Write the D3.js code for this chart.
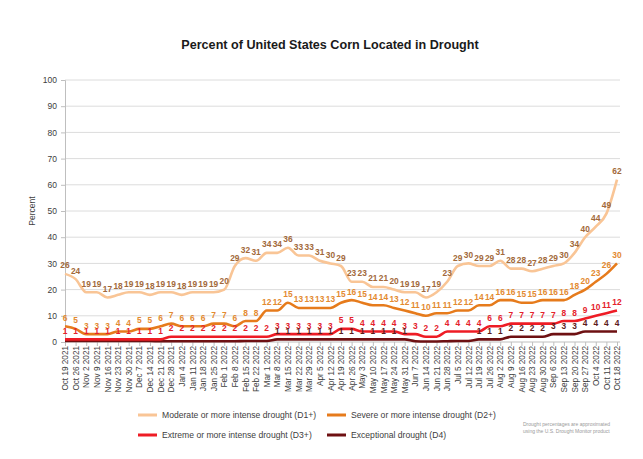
<!DOCTYPE html>
<html>
<head>
<meta charset="utf-8">
<script src="https://cdn.jsdelivr.net/npm/d3@7"></script>
<style>
  html, body { margin: 0; padding: 0; background: #ffffff; }
  svg { display: block; font-family: "Liberation Sans", Arial, sans-serif; }
</style>
</head>
<body>
<svg id="chart" width="643" height="459"></svg>
<script>
// Weekly U.S. Drought Monitor dates
const weeks = [
  "Oct 19 2021","Oct 26 2021","Nov 2 2021","Nov 9 2021","Nov 16 2021","Nov 23 2021","Nov 30 2021",
  "Dec 7 2021","Dec 14 2021","Dec 21 2021","Dec 28 2021","Jan 4 2022","Jan 11 2022","Jan 18 2022",
  "Jan 25 2022","Feb 1 2022","Feb 8 2022","Feb 15 2022","Feb 22 2022","Mar 1 2022","Mar 8 2022",
  "Mar 15 2022","Mar 22 2022","Mar 29 2022","Apr 5 2022","Apr 12 2022","Apr 19 2022","Apr 26 2022",
  "May 3 2022","May 10 2022","May 17 2022","May 24 2022","May 31 2022","Jun 7 2022","Jun 14 2022",
  "Jun 21 2022","Jun 28 2022","Jul 5 2022","Jul 12 2022","Jul 19 2022","Jul 26 2022","Aug 2 2022",
  "Aug 9 2022","Aug 16 2022","Aug 23 2022","Aug 30 2022","Sep 6 2022","Sep 13 2022","Sep 20 2022",
  "Sep 27 2022","Oct 4 2022","Oct 11 2022","Oct 18 2022"
];

// Percent of corn area in each drought category
const d1Plus = [26,24,19,19,17,18,19,19,18,19,19,18,19,19,19,20,29,32,31,34,34,36,33,33,31,30,29,
                23,23,21,21,20,19,19,17,19,23,29,30,29,29,31,28,28,27,28,29,30,34,40,44,49,62];
const d2Plus = [6,5,3,3,3,4,4,5,5,6,7,6,6,6,7,7,6,8,8,12,12,15,13,13,13,13,15,
                16,15,14,14,13,12,11,10,11,11,12,12,14,14,16,16,15,15,16,16,16,18,20,23,26,30];
const d3Plus = [1,1,1,1,1,1,1,1,1,1,2,2,2,2,2,2,2,2,2,2,3,3,3,3,3,3,5,
                5,4,4,4,4,3,3,2,2,4,4,4,4,6,6,7,7,7,7,7,8,8,9,10,11,12];
const d4 = [0.4,0.4,0.4,0.4,0.4,0.4,0.4,0.4,0.4,0.3,0.3,0.3,0.3,0.3,0.3,0.3,0.3,0.4,0.4,0.4,1,1,1,1,1,1,1,
            1,1,1,1,1,1,0.3,0.2,0.2,0.3,0.4,0.4,1,1,1,2,2,2,2,3,3,3,4,4,4,4];

const yTicks = [0,10,20,30,40,50,60,70,80,90,100];

const series = [
  { name: "Moderate or more intense drought (D1+)", values: d1Plus, line: "#f9c596", label: "#a2693a" },
  { name: "Severe or more intense drought (D2+)",   values: d2Plus, line: "#e67b1c", label: "#e38a30" },
  { name: "Extreme or more intense drought (D3+)",  values: d3Plus, line: "#ee1c25", label: "#e5212b" },
  { name: "Exceptional drought (D4)",               values: d4,     line: "#6e1012", label: "#5c1b1b" }
];

const svg = d3.select("#chart");
const plot = { left: 65, right: 620, top: 80, bottom: 342 };

const x = d3.scalePoint().domain(weeks).range([plot.left, 617]);
const y = d3.scaleLinear().domain([0, 100]).range([plot.bottom, plot.top]);

// Title
svg.append("text")
  .attr("x", 330).attr("y", 49)
  .attr("text-anchor", "middle")
  .attr("font-size", 12.6).attr("font-weight", "bold").attr("fill", "#1a1a1a")
  .text("Percent of United States Corn Located in Drought");

// Horizontal gridlines
svg.append("g")
  .selectAll("line")
  .data(yTicks.filter(t => t > 0))
  .join("line")
  .attr("x1", plot.left).attr("x2", plot.right)
  .attr("y1", d => y(d)).attr("y2", d => y(d))
  .attr("stroke", "#dcdcdc").attr("stroke-width", 1);

// Y axis
const yAxis = svg.append("g")
  .attr("transform", `translate(${plot.left},0)`)
  .call(d3.axisLeft(y).tickValues(yTicks).tickSize(4).tickPadding(4));
yAxis.select(".domain").attr("stroke", "#bfbfbf");
yAxis.selectAll(".tick line").attr("stroke", "#bfbfbf");
yAxis.selectAll(".tick text").attr("font-size", 8.5).attr("fill", "#404040")
  .attr("font-family", "Liberation Sans, Arial, sans-serif");

// Y axis title
svg.append("text")
  .attr("transform", "translate(35,211) rotate(-90)")
  .attr("text-anchor", "middle")
  .attr("font-size", 8.5).attr("fill", "#404040")
  .text("Percent");

// X axis
const xAxis = svg.append("g")
  .attr("transform", `translate(0,${plot.bottom})`)
  .call(d3.axisBottom(x).tickSize(4).tickPadding(3));
xAxis.select(".domain").attr("stroke", "#bfbfbf").attr("d", `M${plot.left},0H${plot.right}`);
xAxis.selectAll(".tick line").attr("stroke", "#bfbfbf");
xAxis.selectAll(".tick text")
  .attr("font-size", 8.2).attr("fill", "#404040")
  .attr("font-family", "Liberation Sans, Arial, sans-serif")
  .attr("text-anchor", "end")
  .attr("dy", "0.32em")
  .attr("transform", "translate(0,4) rotate(-90)")
  .attr("x", 0).attr("y", 0);

// Lines
const line = d3.line()
  .x((d, i) => x(weeks[i]))
  .y(d => y(d))
  .curve(d3.curveMonotoneX);

const linesG = svg.append("g");
series.slice().reverse().forEach(s => {
  linesG.append("path")
    .datum(s.values)
    .attr("fill", "none")
    .attr("stroke", s.line)
    .attr("stroke-width", 2.6)
    .attr("stroke-linejoin", "round")
    .attr("d", line);
});

// Data labels (values rounding to zero are not labelled)
const labelsG = svg.append("g")
  .attr("font-size", 8.4).attr("font-weight", "bold").attr("text-anchor", "middle");
series.forEach(s => {
  labelsG.append("g")
    .selectAll("text")
    .data(s.values.map((v, i) => ({ v, i })).filter(d => Math.round(d.v) > 0))
    .join("text")
    .attr("x", d => x(weeks[d.i]))
    .attr("y", d => y(d.v) - 5.5)
    .attr("fill", s.label)
    .text(d => Math.round(d.v));
});

// Legend
const legendPos = [[138, 415], [327, 415], [138, 435], [327, 435]];
const legend = svg.append("g");
series.forEach((s, i) => {
  const [lx, ly] = legendPos[i];
  legend.append("line")
    .attr("x1", lx).attr("x2", lx + 19)
    .attr("y1", ly).attr("y2", ly)
    .attr("stroke", s.line).attr("stroke-width", 3);
  legend.append("text")
    .attr("x", lx + 24).attr("y", ly + 3)
    .attr("font-size", 8.6).attr("fill", "#404040")
    .text(s.name);
});

// Footnote
const note = svg.append("g").attr("font-size", 5).attr("fill", "#9a9a9a");
note.append("text").attr("x", 523).attr("y", 426).text("Drought percentages are approximated");
note.append("text").attr("x", 523).attr("y", 433).text("using the U.S. Drought Monitor product");
</script>
</body>
</html>
